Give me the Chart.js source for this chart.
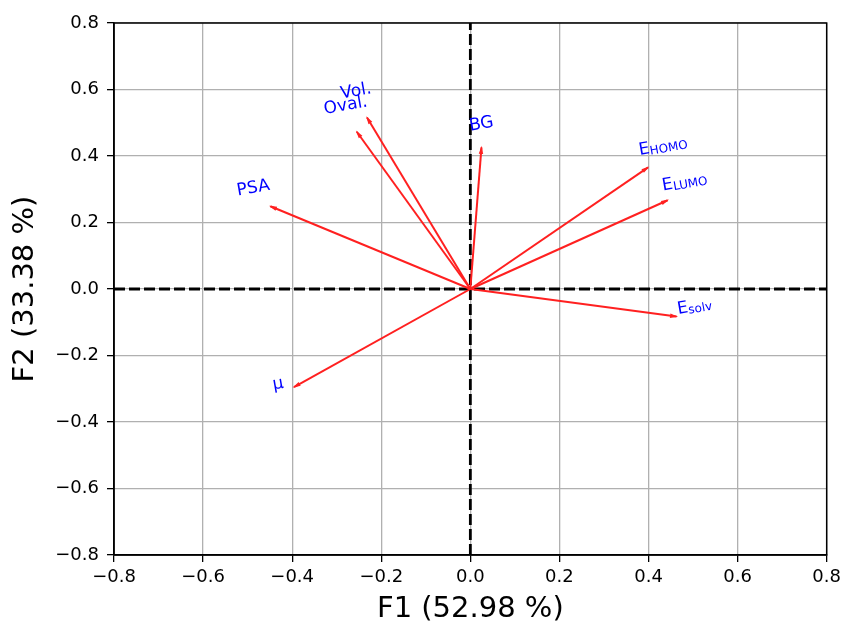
<!DOCTYPE html>
<html>
<head>
<meta charset="utf-8">
<script src="https://cdn.jsdelivr.net/npm/chart.js@4"></script>
<style>
body { margin: 0; background: #fff; }
#wrap { width: 846px; height: 623px; }
</style>
</head>
<body>
<div id="wrap"><canvas id="pca"></canvas></div>
<script>
// variable names (main part + subscript) and their loadings on F1 / F2
var varNames = ['Vol.', 'Oval.', 'BG', 'PSA', 'E', 'E', 'E', 'μ'];
var varSubs = ['', '', '', '', 'HOMO', 'LUMO', 'solv', ''];
var f1Loadings = [-0.232, -0.255, 0.025, -0.449, 0.399, 0.443, 0.463, -0.396];
var f2Loadings = [0.516, 0.473, 0.426, 0.249, 0.366, 0.267, -0.083, -0.295];
var axisTicks = [-0.8, -0.6, -0.4, -0.2, 0.0, 0.2, 0.4, 0.6, 0.8];
var xTitle = 'F1 (52.98 %)';
var yTitle = 'F2 (33.38 %)';

// where the text sits relative to the arrow tip, in pixels
var labelNudge = [[-11, -26], [-11, -26], [0, -23], [-17, -18], [15, -21], [17, -18], [18, -10], [-16, -3]];

var FONT = '"DejaVu Sans", sans-serif';

function fmtTick(v) {
    if (Math.abs(v) < 1e-9) return '0.0';
    return (v < 0 ? '\u2212' : '') + Math.abs(v).toFixed(1);
}

var datasets = [];
// arrows (shafts) - heads are added by the plugin below
f1Loadings.forEach(function(v, i) {
    datasets.push({
        data: [{x: 0, y: 0}, {x: v, y: f2Loadings[i]}],
        showLine: true,
        borderColor: '#ff2020',
        borderWidth: 2,
        pointRadius: 0
    });
});
// dashed zero lines
datasets.push({
    data: [{x: axisTicks[0], y: 0}, {x: axisTicks[axisTicks.length - 1], y: 0}],
    showLine: true, borderColor: '#000', borderWidth: 2.8, borderDash: [11, 4], pointRadius: 0
});
datasets.push({
    data: [{x: 0, y: axisTicks[0]}, {x: 0, y: axisTicks[axisTicks.length - 1]}],
    showLine: true, borderColor: '#000', borderWidth: 2.8, borderDash: [11, 4], pointRadius: 0
});

/*
    heads of the arrows, the blue labels and the frame round the plot
*/
var arrowDecor = {
    id: 'arrowDecor',
    afterDatasetsDraw: function(chart) {
        var ctx = chart.ctx, xs = chart.scales.x, ys = chart.scales.y;
        var x0 = xs.getPixelForValue(0), y0 = ys.getPixelForValue(0);
        ctx.save();
        f1Loadings.forEach(function(v, i) {
            var px = xs.getPixelForValue(v), py = ys.getPixelForValue(f2Loadings[i]);
            var a = Math.atan2(py - y0, px - x0);
            var L = 6.5, H = 2.2;
            var bx = px - L * Math.cos(a), by = py - L * Math.sin(a);
            ctx.fillStyle = '#ff2020';
            ctx.beginPath();
            ctx.moveTo(px + 1.5 * Math.cos(a), py + 1.5 * Math.sin(a));
            ctx.lineTo(bx - H * Math.sin(a), by + H * Math.cos(a));
            ctx.lineTo(bx + H * Math.sin(a), by - H * Math.cos(a));
            ctx.closePath();
            ctx.fill();

            // label
            var cx = px + labelNudge[i][0], cy = py + labelNudge[i][1];
            ctx.font = '17px ' + FONT;
            var w1 = ctx.measureText(varNames[i]).width;
            ctx.font = '12px ' + FONT;
            var w2 = varSubs[i] ? ctx.measureText(varSubs[i]).width : 0;
            ctx.save();
            ctx.translate(cx, cy);
            ctx.rotate(-10 * Math.PI / 180);
            ctx.fillStyle = '#0000ff';
            ctx.textAlign = 'left';
            ctx.textBaseline = 'middle';
            ctx.font = '17px ' + FONT;
            ctx.fillText(varNames[i], -(w1 + w2) / 2, 0);
            if (varSubs[i]) {
                ctx.font = '12px ' + FONT;
                ctx.fillText(varSubs[i], -(w1 + w2) / 2 + w1, 3);
            }
            ctx.restore();
        });
        ctx.restore();
    },
    afterDraw: function(chart) {
        var a = chart.chartArea, ctx = chart.ctx;
        ctx.save();
        ctx.strokeStyle = '#000';
        ctx.lineWidth = 1.5;
        ctx.strokeRect(a.left, a.top, a.right - a.left, a.bottom - a.top);
        ctx.restore();
    }
};

var scaleBase = function(titleText, isX) {
    return {
        type: 'linear',
        min: axisTicks[0],
        max: axisTicks[axisTicks.length - 1],
        afterBuildTicks: function(s) {
            s.ticks = axisTicks.map(function(v) { return {value: v}; });
        },
        afterFit: function(s) {
            if (isX) s.height = 68; else s.width = 114;
        },
        ticks: {
            color: '#000',
            font: {family: FONT, size: 18},
            padding: isX ? 5 : 8,
            maxRotation: 0,
            autoSkip: false,
            callback: function(v) { return fmtTick(v); }
        },
        grid: {
            color: '#b0b0b0',
            lineWidth: 1.3,
            tickColor: '#000',
            tickLength: 7,
            tickWidth: 1.3
        },
        border: {display: true, color: '#000', width: 1.5},
        title: {
            display: true,
            text: titleText,
            color: '#000',
            font: {family: FONT, size: 29, lineHeight: 0.9},
            padding: isX ? {top: 0, bottom: 0} : {top: 12, bottom: 0}
        }
    };
};

var myChart = new Chart(document.getElementById('pca').getContext('2d'), {
    type: 'scatter',
    data: {datasets: datasets},
    options: {
        responsive: true,
        maintainAspectRatio: false,
        animation: false,
        layout: {padding: {top: 23, right: 18, left: 0, bottom: 0}},
        plugins: {legend: {display: false}, tooltip: {enabled: false}},
        scales: {
            x: scaleBase(xTitle, true),
            y: scaleBase(yTitle, false)
        }
    },
    plugins: [arrowDecor]
});
</script>
</body>
</html>
